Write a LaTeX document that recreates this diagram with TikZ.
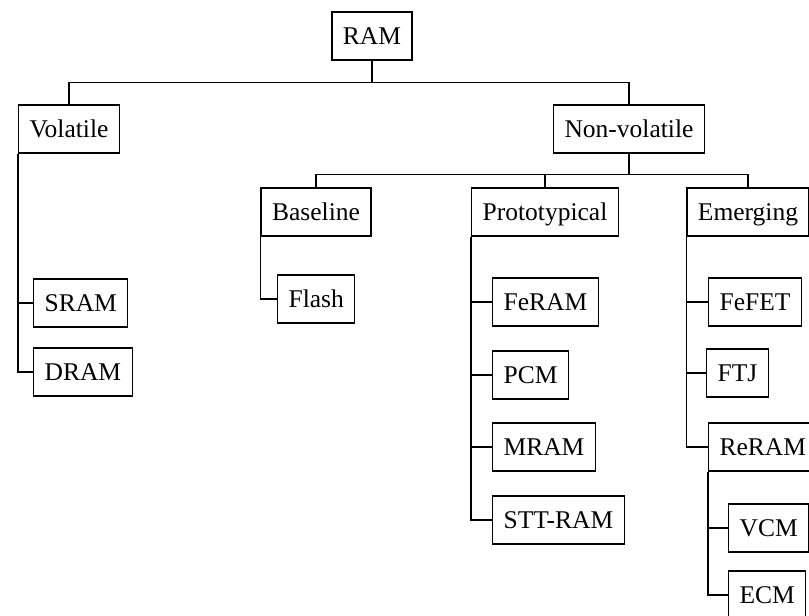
\documentclass[tikz,border=0pt]{standalone}
\usepackage{fontspec}
\setmainfont{Liberation Serif}
\usetikzlibrary{positioning}

\tikzset{
    box/.style={draw, line width=1.2pt, inner xsep=11pt, inner ysep=0pt,
        minimum height=48pt, text height=17pt, text depth=0pt},
    leaf/.style={box, anchor=west},
    link/.style={line width=1.3pt}
}

\begin{document}
\begin{tikzpicture}[x=1pt, y=-1pt, font=\fontsize{25.5}{30}\selectfont]
\useasboundingbox (0,0) rectangle (809,616);
\clip (0,0) rectangle (809,616);
% top levels
\node[box] (ram) at (372,36) {RAM};
\node[box] (vol) at (69,129) {Volatile};
\node[box] (nonvol) at (629,129) {Non-volatile};
\node[box] (base) at (316,212) {Baseline};
\node[box] (proto) at (545,212) {Prototypical};
\node[box] (emerg) at (748,212) {Emerging};
% leaves
\node[leaf] (sram) at (33,303) {SRAM};
\node[leaf] (dram) at (33,372) {DRAM};
\node[leaf] (flash) at (277,299) {Flash};
\node[leaf] (feram) at (492,302) {FeRAM};
\node[leaf] (pcm) at (492,375) {PCM};
\node[leaf] (mram) at (492,447) {MRAM};
\node[leaf] (sttram) at (492,520) {STT-RAM};
\node[leaf] (fefet) at (708,302) {FeFET};
\node[leaf] (ftj) at (706,373) {FTJ};
\node[leaf] (reram) at (708,447) {ReRAM};
\node[leaf] (vcm) at (728,528) {VCM};
\node[leaf] (ecm) at (728,595) {ECM};

% tree lines
\draw[link] (ram.south) -- ++(0,22) coordinate (j1);
\draw[link] (vol.north) |- (j1) -| (nonvol.north);
\draw[link] (nonvol.south) -- ++(0,21) coordinate (j2);
\draw[link] (base.north) |- (j2) -| (emerg.north);
\draw[link] (proto.north) -- (proto.north |- j2);

\draw[link] (vol.south west) |- (dram.west);
\draw[link] (sram.west) -- (sram.west -| vol.south west);
\draw[link] (base.south west) |- (flash.west);
\draw[link] (proto.south west) |- (sttram.west);
\foreach \n in {feram,pcm,mram}
    \draw[link] (\n.west) -- (\n.west -| proto.south west);
\draw[link] (emerg.south west) |- (reram.west);
\foreach \n in {fefet,ftj}
    \draw[link] (\n.west) -- (\n.west -| emerg.south west);
\draw[link] (reram.south west) |- (ecm.west);
\draw[link] (vcm.west) -- (vcm.west -| reram.south west);
\end{tikzpicture}
\end{document}
